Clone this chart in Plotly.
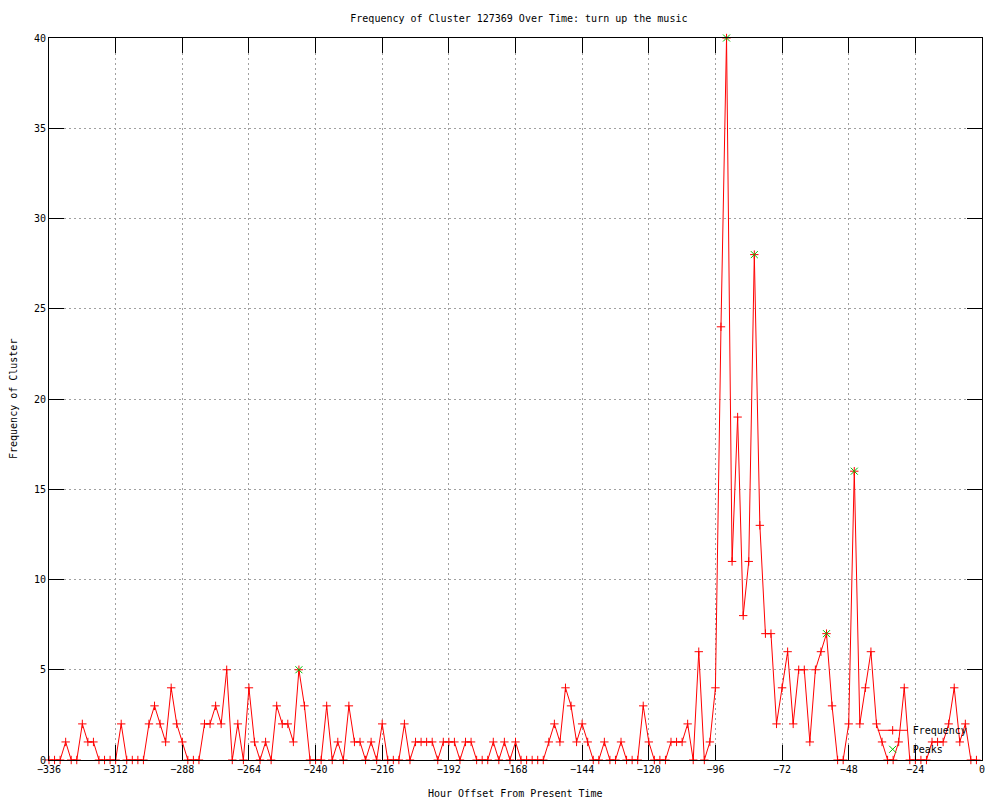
import plotly.graph_objects as go

# Hour offsets (every 2 hours from -336 to -2)
hours = list(range(-336, 0, 2))

frequency = [
    0, 0, 0, 1, 0, 0, 2, 1, 1, 0,
    0, 0, 0, 2, 0, 0, 0, 0, 2, 3,
    2, 1, 4, 2, 1, 0, 0, 0, 2, 2,
    3, 2, 5, 0, 2, 0, 4, 1, 0, 1,
    0, 3, 2, 2, 1, 5, 3, 0, 0, 0,
    3, 0, 1, 0, 3, 1, 1, 0, 1, 0,
    2, 0, 0, 0, 2, 0, 1, 1, 1, 1,
    0, 1, 1, 1, 0, 1, 1, 0, 0, 0,
    1, 0, 1, 0, 1, 0, 0, 0, 0, 0,
    1, 2, 1, 4, 3, 1, 2, 1, 0, 0,
    1, 0, 0, 1, 0, 0, 0, 3, 1, 0,
    0, 0, 1, 1, 1, 2, 0, 6, 0, 1,
    4, 24, 40, 11, 19, 8, 11, 28, 13, 7,
    7, 2, 4, 6, 2, 5, 5, 1, 5, 6,
    7, 3, 0, 0, 2, 16, 2, 4, 6, 2,
    1, 0, 0, 1, 4, 0, 0, 0, 0, 1,
    1, 1, 2, 4, 1, 2, 0, 0,
]

peak_hours = [-246, -92, -82, -56, -46]
peak_values = [5, 40, 28, 7, 16]

x_ticks = [-336, -312, -288, -264, -240, -216, -192, -168, -144, -120, -96, -72, -48, -24, 0]
y_ticks = [0, 5, 10, 15, 20, 25, 30, 35, 40]

title_text = "Frequency of Cluster 127369 Over Time: turn up the music"
x_title = "Hour Offset From Present Time"
y_title = "Frequency of Cluster"

FONT = "DejaVu Sans Mono"
RED = "#ff0000"
GREEN = "#00c000"

fig = go.Figure()
fig.add_trace(go.Scatter(
    x=hours, y=frequency, mode="lines+markers", name="Frequency",
    line=dict(color=RED, width=1), cliponaxis=False,
    marker=dict(symbol="cross-thin-open", size=6, color=RED,
                line=dict(color=RED, width=1)),
))
fig.add_trace(go.Scatter(
    x=peak_hours, y=peak_values, mode="markers", name="Peaks",
    cliponaxis=False,
    marker=dict(symbol="x-thin-open", size=7, color=GREEN,
                line=dict(color=GREEN, width=1)),
))

axis_common = dict(
    showline=True, linecolor="black", linewidth=1, mirror="ticks",
    ticks="inside", ticklen=15, tickcolor="black", tickwidth=1,
    showgrid=True, gridcolor="#a0a0a0", gridwidth=1, griddash="2px,3px",
    zeroline=False,
    tickfont=dict(family=FONT, size=10, color="black"),
)

fig.update_xaxes(range=[-336, 0], tickvals=x_ticks, **axis_common)
fig.update_yaxes(range=[0, 40], tickvals=y_ticks, **axis_common)

# page has an 8px body margin; figure is sized so the plot area lands at 49..982 x 38..760
fig.update_layout(
    width=992, height=792,
    margin=dict(l=41, r=18, t=30, b=40),
    paper_bgcolor="white", plot_bgcolor="white",
    font=dict(family=FONT, size=10, color="black"),
    title=dict(text=title_text, x=0.515, xanchor="center",
               y=1 - 10 / 792, yanchor="middle",
               font=dict(family=FONT, size=10, color="black")),
    showlegend=True,
    legend=dict(x=0.990, xanchor="right", y=0.028, yanchor="middle",
                bgcolor="rgba(0,0,0,0)", borderwidth=0,
                font=dict(family=FONT, size=10, color="black"),
                itemwidth=30, tracegroupgap=0),
    annotations=[
        dict(text=x_title, xref="paper", yref="paper", x=0.5, y=0,
             yshift=-33, showarrow=False, xanchor="center", yanchor="middle",
             font=dict(family=FONT, size=10, color="black")),
        dict(text=y_title, xref="paper", yref="paper", x=0, y=0.5,
             xshift=-36, showarrow=False, textangle=-90,
             xanchor="center", yanchor="middle",
             font=dict(family=FONT, size=10, color="black")),
    ],
)

fig.write_html("out.html")
